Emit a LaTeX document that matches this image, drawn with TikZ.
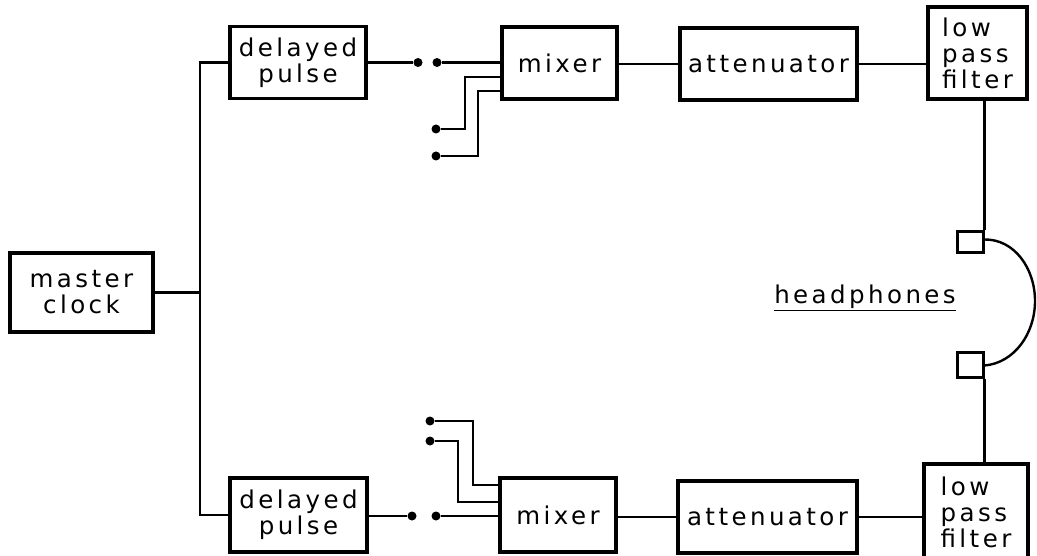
\documentclass[tikz,border=0pt]{standalone}
\usepackage{fontspec}
\setmainfont{DejaVu Sans}[LetterSpace=14]
\begin{document}
\begin{tikzpicture}[x=1pt,y=-1pt,
  blk/.style={draw,line width=3.4pt,align=center,inner sep=0pt,font=\fontsize{24.5}{26}\selectfont},
  wire/.style={line width=2.4pt},
  dot/.style={circle,fill,inner sep=0pt,minimum size=9pt},
  phone/.style={draw,line width=3pt,inner sep=0pt}]
\useasboundingbox (0,0) rectangle (1037,556);
% blocks
\node[blk,minimum width=143pt,minimum height=79pt] (clock) at (81.5,292.5) {master\\clock};
\node[blk,minimum width=136pt,minimum height=72pt] (dp1) at (298,62.5) {delayed\\pulse};
\node[blk,minimum width=137pt,minimum height=74pt] (dp2) at (298.5,515) {delayed\\pulse};
\node[blk,minimum width=115pt,minimum height=72pt] (mx1) at (559.5,63) {mixer};
\node[blk,minimum width=116pt,minimum height=74pt] (mx2) at (558,515) {mixer};
\node[blk,minimum width=177pt,minimum height=72pt] (at1) at (768.5,64) {attenuator};
\node[blk,minimum width=179pt,minimum height=72pt] (at2) at (767.5,517) {attenuator};
\node[blk,minimum width=99pt,minimum height=92pt,align=left] (lp1) at (977.5,53) {low\\pass\\filter};
\node[blk,minimum width=104pt,minimum height=96pt,align=left] (lp2) at (976,512) {low\\pass\\filter};
\node[phone,minimum width=26pt,minimum height=21pt] (ph1) at (970,242.5) {};
\node[phone,minimum width=26pt,minimum height=25pt] (ph2) at (970,364.5) {};
\node[font=\fontsize{24.5}{26}\selectfont] (hp) at (865,298) {\underline{headphones}};
% bus
\coordinate (bt) at (200,62.5);
\coordinate (bm) at (200,292.5);
\coordinate (bb) at (200,515);
\draw[wire] (dp1.west) -- (bt) -- (bb) -- (dp2.west);
\draw[wire] (clock.east) -- (bm);
% top row
\node[dot] (d1a) at (418,62.5) {};
\node[dot] (d1b) at (437,62.5) {};
\node[dot] (e1) at (436,129) {};
\node[dot] (e2) at (436,156) {};
\coordinate (k1) at (465,77);
\coordinate (k2) at (478,91);
\draw[wire] (dp1.east) -- (d1a);
\draw[wire] (d1b) -- (mx1.west |- d1b);
\draw[wire] (e1) -| (k1) -- (mx1.west |- k1);
\draw[wire] (e2) -| (k2) -- (mx1.west |- k2);
\draw[wire] (mx1.east |- at1.west) -- (at1.west);
\draw[wire] (at1.east) -- (lp1.west |- at1.east);
% bottom row
\node[dot] (d2a) at (412,516) {};
\node[dot] (d2b) at (436,516) {};
\node[dot] (f1) at (430,421) {};
\node[dot] (f2) at (430,441) {};
\coordinate (m1) at (473,485);
\coordinate (m2) at (458,502);
\draw[wire] (dp2.east |- d2a) -- (d2a);
\draw[wire] (d2b) -- (mx2.west |- d2b);
\draw[wire] (f1) -| (m1) -- (mx2.west |- m1);
\draw[wire] (f2) -| (m2) -- (mx2.west |- m2);
\draw[wire] (mx2.east |- at2.west) -- (at2.west);
\draw[wire] (at2.east) -- (lp2.west |- at2.east);
% headphones
\draw[wire] (ph1.north east |- lp1.south) -- (ph1.north east);
\draw[wire] (ph2.south east) -- (ph2.south east |- lp2.north);
\coordinate (hpmid) at (1035,301);
\draw[wire] ([yshift=3pt]ph1.east) .. controls (1014,239) and (1035,268) .. (hpmid)
  .. controls (1035,334) and (1014,363) .. ([yshift=-1pt]ph2.east);
\end{tikzpicture}
\end{document}
